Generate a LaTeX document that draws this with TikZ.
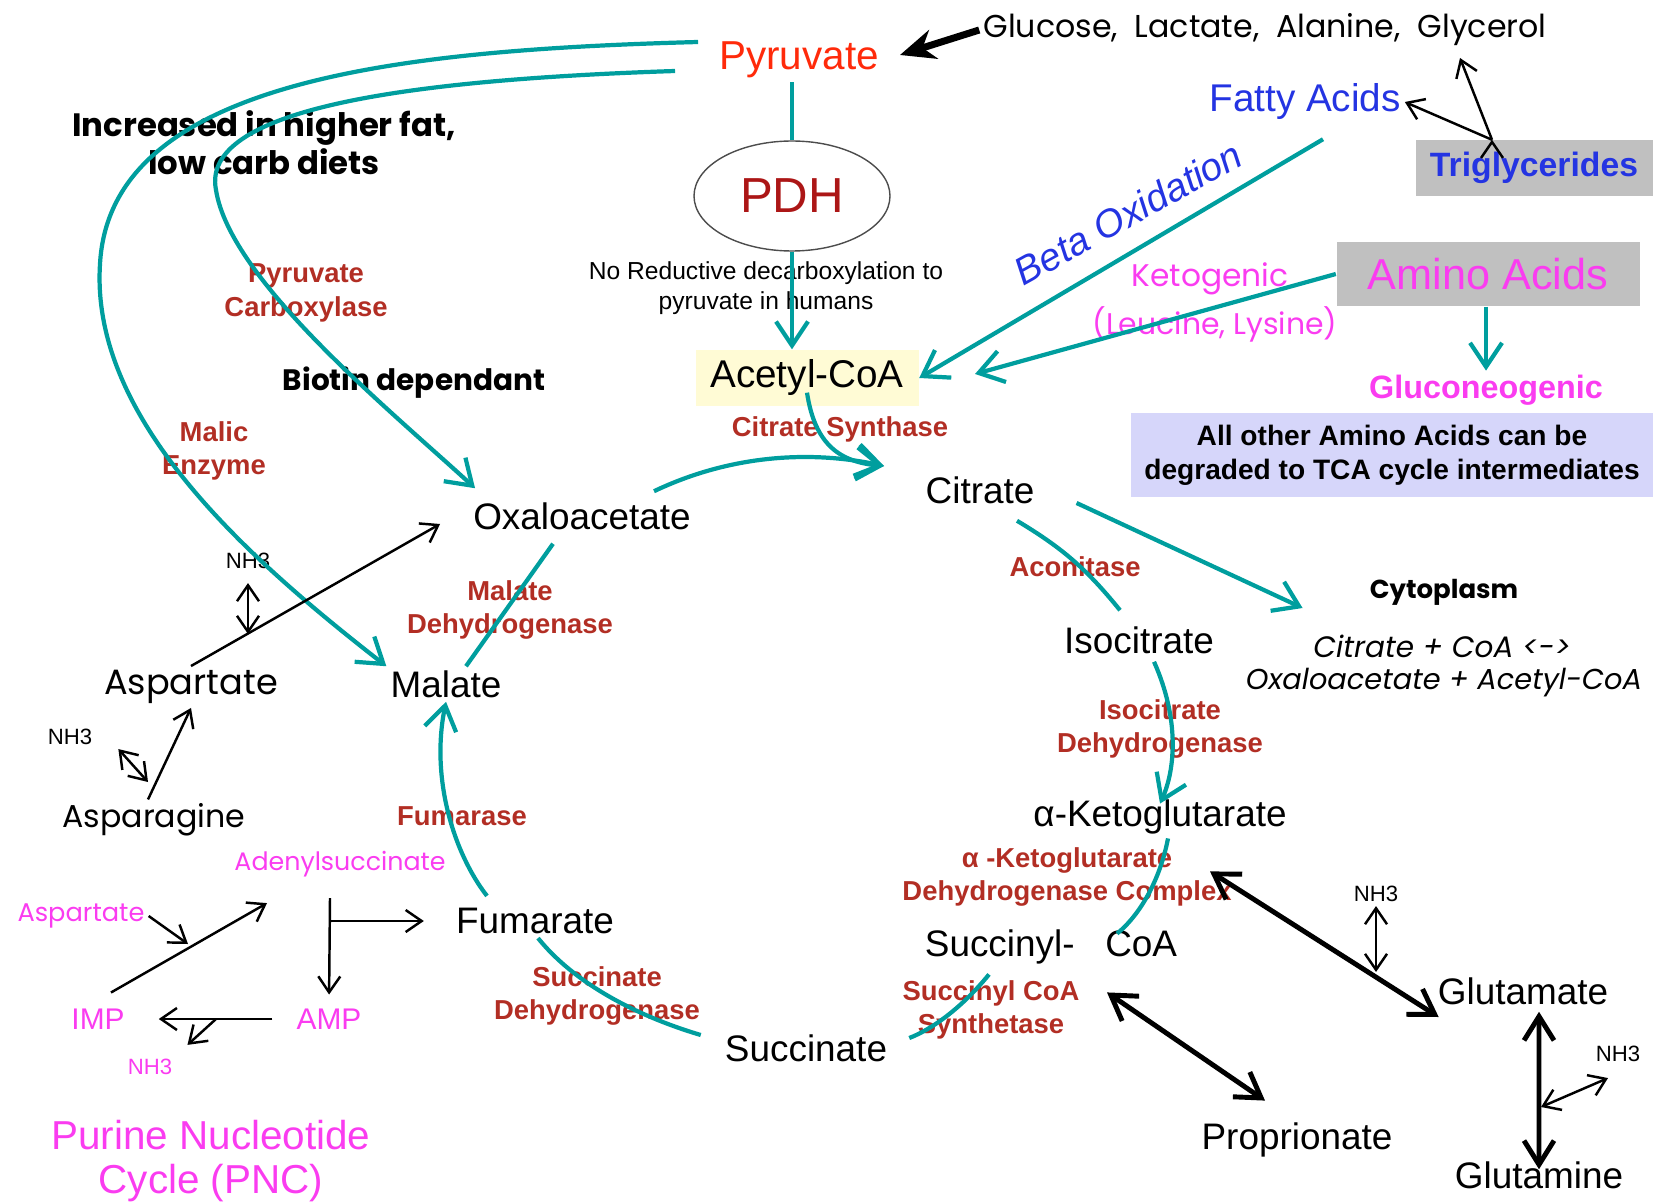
\documentclass[tikz,border=0pt]{standalone}
\usepackage{fontspec}
\setmainfont{Liberation Sans}
\newfontfamily\comic{Poppins}
\usepackage{tikz}
\usetikzlibrary{shapes.geometric}
\usetikzlibrary{positioning}
\usetikzlibrary{arrows.meta}
\definecolor{tealc}{RGB}{0,158,158}
\definecolor{enzred}{RGB}{178,46,36}
\definecolor{pyrred}{RGB}{255,42,10}
\definecolor{pdhred}{RGB}{172,22,22}
\definecolor{fablue}{RGB}{36,52,226}
\definecolor{aamag}{RGB}{250,60,240}
\definecolor{boxgray}{RGB}{192,192,192}
\definecolor{accbox}{RGB}{255,251,213}
\definecolor{lavbox}{RGB}{214,214,250}
\tikzset{	>={Straight Barb[length=2.4mm,width=3.2mm]},
	met/.style={
		font=\fontsize{10.5}{12.5}\selectfont,
		inner sep=1pt},
	enz/.style={
		font=\bfseries\fontsize{7.8}{9.6}\selectfont,
		text=enzred,
		align=center,
		inner sep=1pt},
	cmc/.style={
		font=\comic\fontsize{9}{11}\selectfont,
		inner sep=1pt},
	tiny/.style={
		font=\fontsize{6.3}{7}\selectfont,
		inner sep=1pt},
	flow/.style={
		draw=tealc,
		line width=1.2pt,
		->},
	link/.style={
		draw=tealc,
		line width=1.2pt},
	slim/.style={
		draw,
		line width=0.7pt,
		>={Straight Barb[length=1.6mm,width=2.2mm]},
		->},
	both/.style={
		draw,
		line width=1.4pt,
		>={Straight Barb[length=2.4mm,width=3mm]},
		<->}
}

\begin{document}
\begin{tikzpicture}[x=0.1mm,y=-0.1mm]
					\useasboundingbox (0,0) rectangle (1653,1203);
					\node[met, text=pyrred, font=\fontsize{11.5}{13}\selectfont] (Pyr) at (799,60) {Pyruvate};
					\node[cmc] (Glc) at (1265,30) {Glucose,\ \ Lactate,\ \ Alanine,\ \ Glycerol};
					\node[met, text=fablue, font=\fontsize{11}{13}\selectfont] (FA) at (1305,102) {Fatty Acids};
					\node[fill=boxgray, minimum width=23.7mm, minimum height=5.3mm, text=fablue, font=\bfseries\fontsize{9.6}{12}\selectfont] (TG) at (1534,168) {Triglycerides};
					\coordinate (TGup) at (1460,58);
					\node[ellipse, draw=gray!60!black, minimum width=19.6mm, minimum height=11mm, text=pdhred, font=\fontsize{14}{16}\selectfont] (PDH) at (792,196) {PDH};
					\node[tiny, align=center, font=\fontsize{7}{8.5}\selectfont] (NoRed) at (766,288) {No Reductive decarboxylation to\\pyruvate in humans};
					\node[met, fill=accbox, minimum width=22.3mm, minimum height=5.6mm, font=\fontsize{11}{13}\selectfont] (AcCoA) at (807,378) {Acetyl-CoA};
					\node[enz] (CS) at (840,429) {Citrate Synthase};
					\node[met] (Cit) at (980,490) {Citrate};
					\coordinate (CSin) at (884,466);
					\node[text=fablue, rotate=29, font=\itshape\fontsize{11}{13}\selectfont] (BO) at (1128,213) {Beta Oxidation};
					\node[fill=boxgray, minimum width=30.3mm, minimum height=6.4mm, text=aamag, font=\fontsize{12.3}{14}\selectfont] (AA) at (1488,274) {Amino Acids};
					\coordinate (KetEnd) at (975,374);
					\node[cmc, text=aamag, font=\comic\fontsize{8.9}{11}\selectfont] (Keto) at (1210,279) {Ketogenic};
					\node[cmc, text=aamag, font=\comic\fontsize{8.5}{11}\selectfont] (LL) at (1215,324) {(Leucine, Lysine)};
					\node[met, text=aamag, font=\bfseries\fontsize{9.2}{11}\selectfont] (Gluco) at (1486,390) {Gluconeogenic};
					\node[fill=lavbox, minimum width=52.3mm, minimum height=8.1mm, align=center, font=\bfseries\fontsize{8}{9.7}\selectfont] (Lav) at (1392,455) {All other Amino Acids can be\\degraded to TCA cycle intermediates};
					\node[cmc, align=center, font=\comic\bfseries\fontsize{9.2}{10.8}\selectfont] (Incr) at (264,143) {Increased in higher fat,\\low carb diets};
					\node[enz] (PC) at (306,293) {Pyruvate\\Carboxylase};
					\node[cmc, font=\comic\bfseries\fontsize{8.4}{10}\selectfont] (Bio) at (414,383) {Biotin dependant};
					\node[enz] (ME) at (214,451) {Malic\\Enzyme};
					\node[met] (Oxa) at (582,516) {Oxaloacetate};
					\node[met] (Mal) at (446,684) {Malate};
					\node[enz] (MDH) at (510,610) {Malate\\Dehydrogenase};
					\node[cmc, font=\comic\fontsize{10}{12}\selectfont] (Asp) at (191,687) {Aspartate};
					\node[tiny] (N1) at (248,561) {NH3};
					\coordinate (n1) at (248,634);
					\node[cmc, font=\comic\fontsize{9}{11}\selectfont] (Asn) at (154,820) {Asparagine};
					\node[tiny] (N2) at (70,737) {NH3};
					\coordinate (n2) at (148,782);
					\node[met] (Fum) at (535,921) {Fumarate};
					\node[enz] (Fumase) at (462,816) {Fumarase};
					\node[met] (Succ) at (806,1048) {Succinate};
					\node[enz] (SDH) at (597,996) {Succinate\\Dehydrogenase};
					\node[cmc, text=aamag, font=\comic\fontsize{7.2}{9}\selectfont] (Ade) at (340,864) {Adenylsuccinate};
					\node[cmc, text=aamag, font=\comic\fontsize{7.3}{9}\selectfont] (Asp2) at (81,916) {Aspartate};
					\node[met, text=aamag, font=\fontsize{8.5}{10}\selectfont] (IMP) at (98,1019) {IMP};
					\node[met, text=aamag, font=\fontsize{8.5}{10}\selectfont] (AMP) at (329,1019) {AMP};
					\node[tiny, text=aamag] (N4) at (150,1067) {NH3};
					\coordinate (n3) at (188,944);
					\coordinate (br) at (330,921);
					\coordinate (n4) at (216,1019);
					\node[met, text=aamag, align=center, font=\fontsize{11.5}{12.5}\selectfont] (PNC) at (211,1161) {Purine Nucleotide\\Cycle (PNC)};
					\node[met] (Iso) at (1139,640) {Isocitrate};
					\node[enz] (Acon) at (1075,567) {Aconitase};
					\node[cmc, font=\comic\bfseries\fontsize{7.4}{10}\selectfont] (Cyto) at (1444,592) {Cytoplasm};
					\node[cmc, font=\comic\itshape\fontsize{8.4}{10}\selectfont] (Eq1) at (1442,646) {Citrate + CoA <->};
					\node[cmc, font=\comic\itshape\fontsize{8.2}{10}\selectfont] (Eq2) at (1444,683) {Oxaloacetate + Acetyl-CoA};
					\node[enz] (IDH) at (1160,729) {Isocitrate\\Dehydrogenase};
					\node[met] (aKG) at (1160,817) {α-Ketoglutarate};
					\node[enz] (aKGDH) at (1067,877) {α -Ketoglutarate\\Dehydrogenase Complex};
					\node[met] (SucCoA) at (1051,947) {Succinyl-\ \ \ CoA};
					\node[enz] (SCS) at (991,1010) {Succinyl CoA\\Synthetase};
					\node[met] (Glu) at (1523,991) {Glutamate};
					\node[tiny] (N5) at (1376,894) {NH3};
					\coordinate (n5) at (1376,972);
					\node[met] (Prop) at (1297,1140) {Proprionate};
					\node[met] (Gln) at (1539,1175) {Glutamine};
					\node[tiny] (N6) at (1618,1054) {NH3};
					\coordinate (n6) at (1541,1107);
					\draw[line width=2pt, -{Stealth[length=3.5mm,width=3mm]}] (Glc.west) -- ([xshift=1.7mm,yshift=0.5mm]Pyr.east);
					\draw[slim] ([xshift=-4.2mm]TG.north) edge (FA.east) edge (TGup);
					\draw[link] (Pyr.south -| PDH.north) -- (PDH.north);
					\draw[flow] (PDH.south) -- (PDH.south |- AcCoA.north);
					\draw[flow] ([yshift=1.4mm]AcCoA.south) .. controls (815,445) and (840,462) .. (CSin);
					\draw[flow] ([xshift=7.2mm,yshift=0.7mm]Oxa.north) .. controls (730,455) and (810,450) .. (CSin);
					\draw[flow] ([xshift=1.8mm,yshift=-1.5mm]FA.south) -- (AcCoA.east);
					\draw[flow] (AA.west) -- (KetEnd);
					\draw[flow] (AA.south -| Gluco.north) -- (Gluco.north);
					\draw[flow] ([xshift=-1.7mm,yshift=1.8mm]Pyr.west) .. controls (400,50) and (110,80) .. (100,264) .. controls (90,420) and (250,560) .. (Mal.north west);
					\draw[flow] ([xshift=-4mm,yshift=-1.1mm]Pyr.west) .. controls (400,80) and (200,110) .. (216,190) .. controls (230,280) and (390,410) .. ([xshift=0.6mm,yshift=1mm]Oxa.north west);
					\draw[link] ([xshift=-2.9mm,yshift=-1mm]Oxa.south) -- ([xshift=2mm]Mal.north);
					\draw[slim] (Asp.north) -- ([xshift=-2.9mm,yshift=-0.8mm]Oxa.west);
					\draw[slim, <->, shorten <=1mm] (N1.south) -- (n1);
					\draw[slim] ([xshift=-0.6mm]Asn.north) -- (Asp.south);
					\draw[slim, <->] ([xshift=2.2mm]N2.south east) -- (n2);
					\draw[flow] ([xshift=-4.8mm,yshift=0.8mm]Fum.north) .. controls (455,855) and (430,780) .. (Mal.south);
					\draw[link] ([xshift=-2mm,yshift=1.3mm]Succ.west) .. controls (650,1020) and (580,990) .. ([xshift=0.3mm]Fum.south);
					\draw[slim] ([xshift=1.3mm,yshift=1.2mm]IMP.north) -- ([xshift=-7.3mm,yshift=-2.2mm]Ade.south);
					\draw[slim] (Asp2.east) -- (n3);
					\draw[slim, shorten >=1mm] ([xshift=-1mm,yshift=-1.7mm]Ade.south) -- (AMP.north);
					\draw[slim] (br) -- ([xshift=-2.8mm]Fum.west);
					\draw[slim, shorten <=2mm, shorten >=3mm] (AMP.west) -- (IMP.east);
					\draw[slim, shorten >=1.5mm] (n4) -- (N4.north east);
					\draw[link] ([xshift=3.7mm,yshift=-1.3mm]Cit.south) to[bend left=10] ([xshift=-1.9mm,yshift=1.2mm]Iso.north);
					\draw[flow] ([xshift=3.8mm,yshift=-1.3mm]Cit.east) -- ([xshift=-6.3mm,yshift=-1.6mm]Cyto.west);
					\draw[flow] ([xshift=1.5mm,yshift=-0.4mm]Iso.south) .. controls (1180,720) and (1175,770) .. ([yshift=-0.8mm]aKG.north);
					\draw[link] ([xshift=0.8mm]aKG.south) .. controls (1160,880) and (1140,915) .. ([xshift=6.6mm,yshift=-0.8mm]SucCoA.north);
					\draw[link] ([xshift=-6.2mm,yshift=-0.6mm]SucCoA.south) .. controls (960,1010) and (930,1030) .. ([xshift=1.8mm,yshift=1mm]Succ.east);
					\draw[both] ([xshift=5mm,yshift=-3.3mm]aKG.south) -- ([xshift=0.5mm,yshift=-2.6mm]Glu.west);
					\draw[slim, <->] (N5.south) -- (n5);
					\draw[both] ([xshift=5.6mm,yshift=-2.4mm]SucCoA.south) -- ([xshift=-3.2mm,yshift=1.8mm]Prop.north);
					\draw[both] ([xshift=1.6mm,yshift=-0.3mm]Glu.south) -- ([yshift=-1.2mm]Gln.north);
					\draw[slim, <->] (n6) -- ([xshift=-1mm,yshift=-1.2mm]N6.south);
				\end{tikzpicture}
\end{document}
